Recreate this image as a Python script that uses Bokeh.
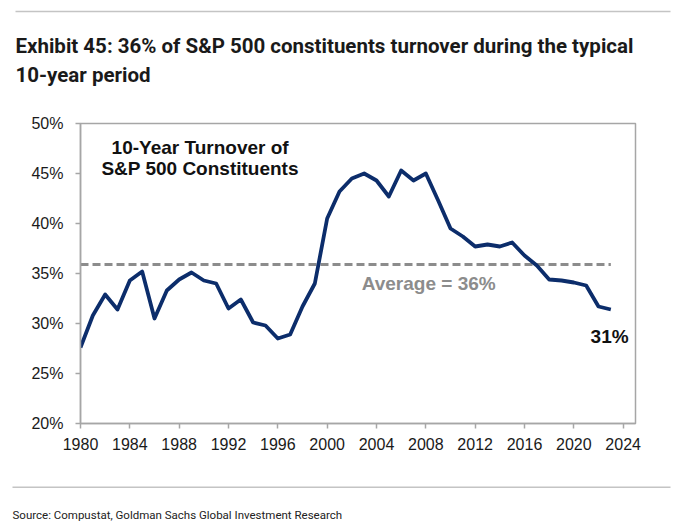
from bokeh.plotting import figure
from bokeh.models import Range1d, FixedTicker, PrintfTickFormatter, Label
from bokeh.layouts import column, row
from bokeh.embed import file_html
from bokeh.resources import INLINE

# ---- data ----
years = list(range(1980, 2024))
turnover = [27.6, 30.8, 32.9, 31.4, 34.3, 35.2, 30.5, 33.3, 34.4, 35.1,
            34.3, 34.0, 31.5, 32.4, 30.1, 29.8, 28.5, 28.9, 31.7, 34.0,
            40.5, 43.2, 44.5, 45.0, 44.3, 42.7, 45.3, 44.3, 45.0, 42.3,
            39.5, 38.7, 37.7, 37.9, 37.7, 38.1, 36.8, 35.8, 34.4, 34.3,
            34.1, 33.8, 31.7, 31.4]
average = 35.9
x_ticks = list(range(1980, 2025, 4))
y_ticks = [20, 25, 30, 35, 40, 45, 50]

title_lines = ["Exhibit 45: 36% of S&P 500 constituents turnover during the typical",
               "10-year period"]
inner_title = ["10-Year Turnover of", "S&P 500 Constituents"]
avg_label = "Average = 36%"
last_label = "31%"
source = "Source: Compustat, Goldman Sachs Global Investment Research"

W = 680
ARIAL = "Liberation Sans"
TFONT = "Roboto"
NAVY = "#0c2d6b"
GRAY = "#8c8c8c"
RULE = "#c4c4c4"
AXIS = "#a6a6a6"


def strip(height):
    f = figure(width=W, height=height, x_range=Range1d(0, W), y_range=Range1d(height, 0),
               x_axis_type=None, y_axis_type=None,
               min_border_left=0, min_border_right=0, min_border_top=0, min_border_bottom=0,
               output_backend="svg", toolbar_location=None)
    f.grid.visible = False
    f.outline_line_color = None
    return f


# ---- header ----
H1 = 99
header = strip(H1)
header.line(x=[15, 670], y=[11, 11], line_color=RULE, line_width=1.5)
for i, t in enumerate(title_lines):
    header.add_layout(Label(x=15, y=45 + 29 * i, text=t, text_font=TFONT,
                            text_font_size="20.5px", text_font_style="bold",
                            text_color="#1a1a1a", text_baseline="alphabetic"))

# ---- main chart ----
H2 = 372
p = figure(width=W, height=H2, x_range=Range1d(1980, 2025), y_range=Range1d(20, 50),
           min_border_left=80, min_border_right=45, min_border_top=24, min_border_bottom=48,
           output_backend="svg", toolbar_location=None)
p.grid.visible = False
p.outline_line_color = AXIS
p.outline_line_width = 1.5

p.xaxis.ticker = FixedTicker(ticks=x_ticks)
p.yaxis.ticker = FixedTicker(ticks=y_ticks)
p.yaxis.formatter = PrintfTickFormatter(format="%d%%")
for ax in (p.xaxis, p.yaxis):
    ax.axis_line_color = AXIS
    ax.axis_line_width = 1.5
    ax.major_tick_line_color = AXIS
    ax.major_tick_line_width = 1.5
    ax.major_tick_out = 5
    ax.major_tick_in = 0
    ax.minor_tick_line_color = None
    ax.major_label_text_font = ARIAL
    ax.major_label_text_font_size = "16px"
    ax.major_label_text_color = "#1a1a1a"
p.xaxis.major_label_standoff = 9
p.yaxis.major_label_standoff = 12

p.line(x=[years[0], years[-1]], y=[average, average], line_color=GRAY,
       line_width=3, line_dash="8 4")
p.line(x=years, y=turnover, line_color=NAVY, line_width=3.8, line_join="round")

for i, t in enumerate(inner_title):
    p.add_layout(Label(x=1989.7, y=47.63 - 2.15 * i, text=t, text_font=ARIAL,
                       text_font_size="19px", text_font_style="bold", text_color="#111111",
                       text_align="center", text_baseline="middle"))
p.add_layout(Label(x=2002.8, y=34.0, text=avg_label, text_font=ARIAL, text_font_size="19px",
                   text_font_style="bold", text_color=GRAY, text_baseline="middle"))
p.add_layout(Label(x=2021.36, y=28.66, text=last_label, text_font=ARIAL, text_font_size="19px",
                   text_font_style="bold", text_color="#111111", text_baseline="middle"))

# ---- footer ----
H3 = 52
footer = strip(H3)
footer.line(x=[12, 670], y=[15.7, 15.7], line_color=RULE, line_width=1.5)
footer.add_layout(Label(x=12, y=43, text=source, text_font=TFONT, text_font_size="11.5px",
                        text_color="#222222", text_baseline="alphabetic"))

layout = column(row(header), p, row(footer), spacing=0)
open("out.html", "w").write(file_html(layout, INLINE))
